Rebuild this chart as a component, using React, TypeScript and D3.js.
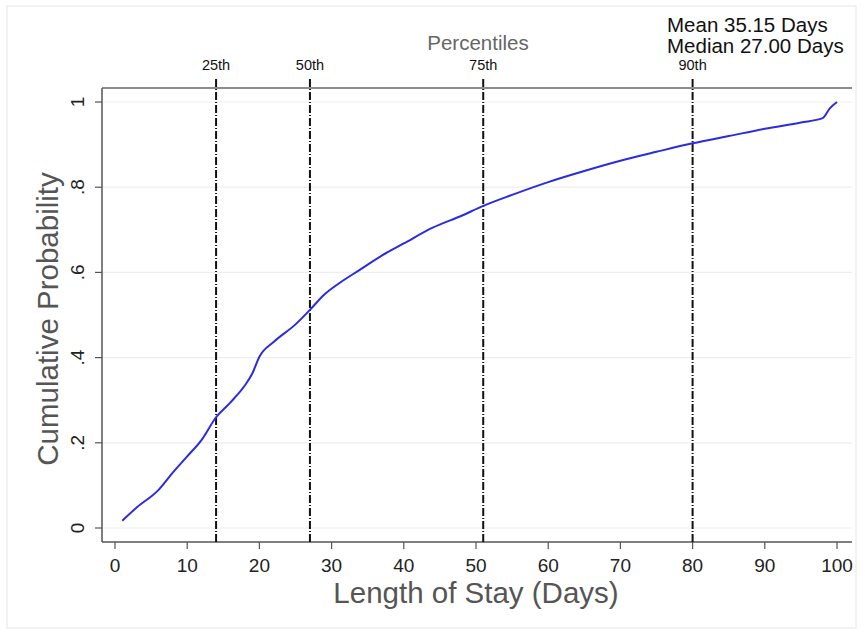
import * as d3 from "d3";
import React from "react";

const days = [1, 3, 6, 8, 10, 12, 14, 16, 18, 19, 20, 22, 25, 27, 29, 31, 34, 37, 40, 44, 48, 51, 55, 60, 65, 70, 75, 80, 85, 90, 95, 98, 99, 100];
const probs = [0.017, 0.048, 0.089, 0.13, 0.168, 0.207, 0.26, 0.295, 0.335, 0.362, 0.402, 0.437, 0.478, 0.512, 0.548, 0.574, 0.607, 0.64, 0.668, 0.705, 0.733, 0.756, 0.782, 0.812, 0.838, 0.862, 0.883, 0.903, 0.92, 0.937, 0.952, 0.962, 0.985, 1.0];

const pctLabels = ["25th", "50th", "75th", "90th"];
const pctValues = [14, 27, 51, 80];

const xTicks = [0, 10, 20, 30, 40, 50, 60, 70, 80, 90, 100];
const yTicks = [0, 0.2, 0.4, 0.6, 0.8, 1];
const yTickLabels = ["0", ".2", ".4", ".6", ".8", "1"];

const statLines = ["Mean 35.15 Days", "Median 27.00 Days"];

const W = 865;
const H = 635;
const plot = { left: 102, right: 852, top: 88, bottom: 542 };
const font = "'Liberation Sans', Arial, Helvetica, sans-serif";

const App: React.FC = () => {
  const x = d3.scaleLinear().domain([0, 100]).range([115, 837]);
  const y = d3.scaleLinear().domain([0, 1]).range([528, 102]);

  const line = d3
    .line<number>()
    .x((d, i) => x(days[i]))
    .y((d) => y(d))
    .curve(d3.curveMonotoneX);

  return (
    <svg
      width={W}
      height={H}
      style={{ position: "absolute", left: 0, top: 0, background: "#fff" }}
      fontFamily={font}
    >
      <rect x={7} y={6} width={849} height={622} fill="none" stroke="#eeeeee" strokeWidth={1.5} />

      {/* gridlines */}
      {yTicks.map((t) => (
        <line key={"g" + t} x1={plot.left} x2={plot.right} y1={y(t)} y2={y(t)} stroke="#eeeeee" strokeWidth={1.2} />
      ))}

      {/* axes */}
      <line x1={plot.left} x2={plot.left} y1={plot.top} y2={plot.bottom} stroke="#555" strokeWidth={1.5} />
      <line x1={plot.left} x2={plot.right} y1={plot.bottom} y2={plot.bottom} stroke="#555" strokeWidth={1.5} />
      <line x1={plot.left} x2={plot.right} y1={plot.top} y2={plot.top} stroke="#666" strokeWidth={1.5} />

      {yTicks.map((t, i) => (
        <g key={"y" + t}>
          <line x1={95} x2={plot.left} y1={y(t)} y2={y(t)} stroke="#555" strokeWidth={1.2} />
          <text
            transform={`translate(84,${y(t)}) rotate(-90)`}
            textAnchor="middle"
            fontSize={19}
            fill="#222"
          >
            {yTickLabels[i]}
          </text>
        </g>
      ))}

      {xTicks.map((t) => (
        <g key={"x" + t}>
          <line x1={x(t)} x2={x(t)} y1={plot.bottom} y2={plot.bottom + 7} stroke="#555" strokeWidth={1.2} />
          <text x={x(t)} y={572} textAnchor="middle" fontSize={19} fill="#222">
            {t}
          </text>
        </g>
      ))}

      {/* percentile lines */}
      {pctValues.map((v, i) => (
        <g key={"p" + v}>
          <line
            x1={x(v)}
            x2={x(v)}
            y1={79}
            y2={plot.bottom}
            stroke="#111"
            strokeWidth={2}
            strokeDasharray="8,2,1,2"
          />
          <text x={x(v)} y={70} textAnchor="middle" fontSize={14.5} fill="#111">
            {pctLabels[i]}
          </text>
        </g>
      ))}

      <text x={478} y={50} textAnchor="middle" fontSize={20.5} fill="#666">
        Percentiles
      </text>

      {statLines.map((s, i) => (
        <text key={s} x={667} y={32 + i * 21} fontSize={20.5} fill="#111">
          {s}
        </text>
      ))}

      {/* CDF curve */}
      <path d={line(probs) ?? ""} fill="none" stroke="#2b2be0" strokeWidth={2} />

      {/* titles */}
      <text x={476} y={603} textAnchor="middle" fontSize={29.5} fill="#555">
        Length of Stay (Days)
      </text>
      <text
        transform={`translate(58,319) rotate(-90)`}
        textAnchor="middle"
        fontSize={29.5}
        fill="#555"
      >
        Cumulative Probability
      </text>
    </svg>
  );
};

export default App;
